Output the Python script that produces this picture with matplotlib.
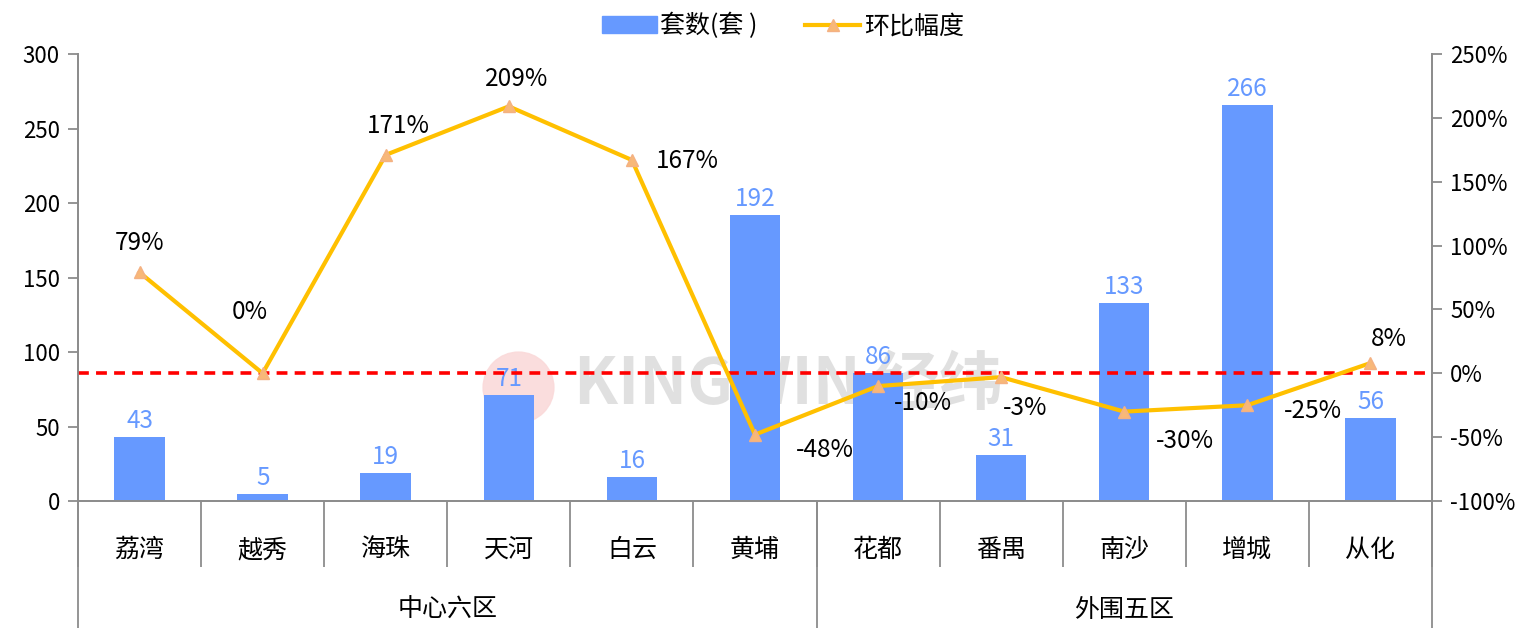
import numpy as np
import matplotlib
matplotlib.use('Agg')
from matplotlib import pyplot as plt
from matplotlib.lines import Line2D
from matplotlib.patches import Patch

plt.rcParams['font.family'] = ['Noto Sans CJK SC', 'DejaVu Sans']

districts = ['荔湾', '越秀', '海珠', '天河', '白云', '黄埔', '花都', '番禺', '南沙', '增城', '从化']
groups = ['中心六区', '外围五区']
group_bounds = [(-0.5, 5.5), (5.5, 10.5)]
units = [43, 5, 19, 71, 16, 192, 86, 31, 133, 266, 56]
mom = [79, 0, 171, 209, 167, -48, -10, -3, -30, -25, 8]
# label offsets (points) for the % labels
mom_offsets = [(0, 21), (-9, 44), (9, 21), (6, 20), (40, -1), (50, -11),
               (32, -12), (17, -22), (44, -21), (47, -4), (13, 17)]

bar_color = '#6699FF'
line_color = '#FFC000'
axis_color = '#8C8C8C'

fig = plt.figure(figsize=(15.32, 6.28), dpi=100)
ax = fig.add_axes([0.0509, 0.2022, 0.8838, 0.7118])
ax2 = ax.twinx()

x = np.arange(len(districts))
ax.bar(x, units, width=0.41, color=bar_color, zorder=2)
for xi, v in zip(x, units):
    ax.annotate(str(v), (xi, v), xytext=(0, 2), textcoords='offset points',
                ha='center', va='bottom', color=bar_color, fontsize=17.5)

ax.set_xlim(-0.5, 10.5)
ax.set_ylim(0, 300)
ax.set_yticks(np.arange(0, 301, 50))

ax2.set_ylim(-100, 250)
ax2.set_yticks(np.arange(-100, 251, 50))
ax2.set_yticklabels([f'{t}%' for t in range(-100, 251, 50)])
ax2.axhline(0, color='#FF0000', lw=2.6, ls=(0, (3, 2)), zorder=1)
ax2.plot(x, mom, color=line_color, lw=3, marker='^', markersize=9,
         markerfacecolor='#F8B878', markeredgecolor='#F4B183', zorder=3)
for xi, v, off in zip(x, mom, mom_offsets):
    ax2.annotate(f'{v}%', (xi, v), xytext=off, textcoords='offset points',
                 ha='center', va='center', fontsize=17.5, color='black')

# watermark
ax.plot([0.325], [0.256], transform=ax.transAxes, marker='o', markersize=51,
        color='#FADADA', alpha=0.9, zorder=0, clip_on=False)
ax.text(0.525, 0.26, 'KINGWIN 经纬', transform=ax.transAxes, fontsize=46,
        fontweight='bold', color='#D9D9D9', alpha=0.8, ha='center', va='center', zorder=0)

for a in (ax, ax2):
    a.spines['top'].set_visible(False)
    for s in ['left', 'right', 'bottom']:
        a.spines[s].set_color(axis_color)
        a.spines[s].set_linewidth(1.3)
    a.tick_params(axis='y', colors=axis_color, labelcolor='black', labelsize=16,
                  length=7, width=1.3, pad=6)

# category axis: separators as minor ticks, labels at centres
ax.set_xticks(x)
ax.set_xticklabels(districts, fontsize=18)
ax.tick_params(axis='x', which='major', length=0, pad=26)
ax.set_xticks(np.arange(-0.5, 11, 1), minor=True)
ax.tick_params(axis='x', which='minor', length=47.5, width=1.3, color=axis_color)

xform = ax.get_xaxis_transform()
for g, (a0, a1) in zip(groups, group_bounds):
    ax.text((a0 + a1) / 2, -0.244, g, transform=xform, ha='center', va='center', fontsize=18)
for b in [-0.5, 5.5, 10.5]:
    ax.plot([b, b], [0, -0.29], transform=xform, color=axis_color, lw=1.3, clip_on=False)

handles = [Patch(color=bar_color, label='套数(套 )'),
           Line2D([0], [0], color=line_color, lw=3, marker='^', markersize=9,
                  markerfacecolor='#F8B878', markeredgecolor='#F4B183', label='环比幅度')]
fig.legend(handles=handles, loc='upper center', bbox_to_anchor=(0.511, 1.015), ncol=2,
           frameon=False, fontsize=18, handlelength=2.2, handletextpad=0.15,
           columnspacing=1.9)

fig.savefig('out.png', dpi=100)
